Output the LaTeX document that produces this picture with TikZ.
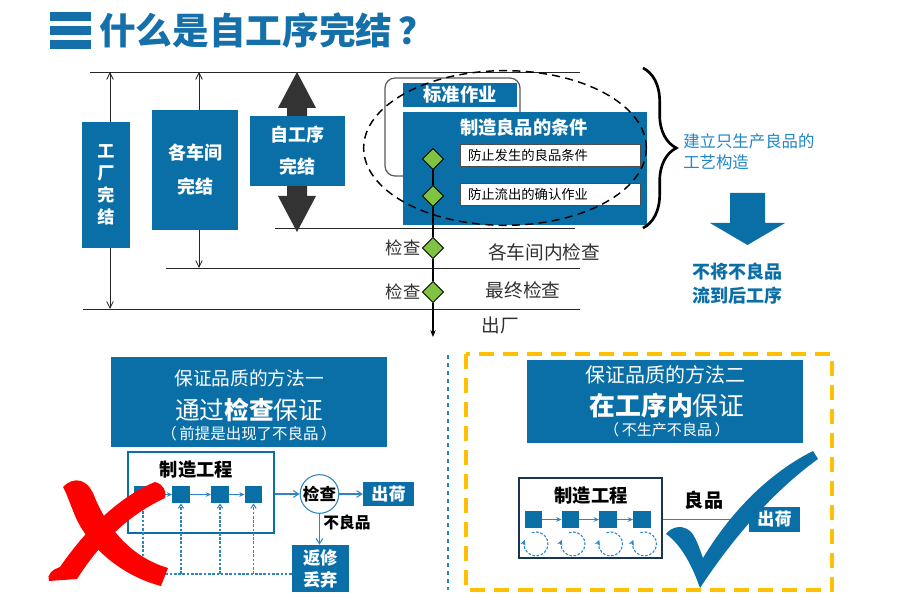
\documentclass[tikz,border=0pt]{standalone}
\usepackage{fontspec}
\setmainfont{Noto Sans CJK SC}
\usepackage{xcolor}
\definecolor{cMain}{HTML}{0B6FA7}
\definecolor{cTitle}{HTML}{1570AA}
\definecolor{cLight}{HTML}{1F86C8}
\definecolor{cLine}{HTML}{2E86C1}
\definecolor{cText}{HTML}{303030}
\definecolor{cDark}{HTML}{333333}
\definecolor{cGreen}{HTML}{80C342}
\definecolor{cYellow}{HTML}{FFC000}
\definecolor{cRed}{HTML}{FF0000}
\definecolor{cNavy}{HTML}{1A3550}
\usepackage{tikz}
\usetikzlibrary{positioning,arrows.meta,shapes.geometric,decorations.pathreplacing,calc,backgrounds}
\newcommand{\fsz}[2]{\fontsize{#1}{#2}\selectfont}
\tikzset{
  blue-box/.style={fill=cMain,text=white,inner sep=0pt,align=center},
  white-box/.style={draw=black!70,fill=white,inner sep=0pt,line width=0.6pt},
  proc-box/.style={draw=cMain,fill=white,line width=1pt,inner sep=0pt},
  sq-box/.style={fill=cMain,minimum size=13pt,inner sep=0pt},
  chk-diamond/.style={diamond,draw=black,fill=cGreen,minimum size=16pt,
    inner sep=0pt,line width=0.6pt},
  txt/.style={text=cText,inner sep=0pt,align=center},
  rule-line/.style={draw=black!85,line width=0.7pt},
  dim-arrow/.style={{Straight Barb[length=5pt,width=5pt]}-{Straight Barb[length=5pt,width=5pt]},
    draw=black!85,line width=0.6pt},
  main-line/.style={-{Stealth[length=5pt,width=4pt]},draw=black,line width=1.1pt},
  flow-arrow/.style={-{Stealth[length=4pt,width=3.5pt]},draw=cLine,line width=0.8pt},
  out-arrow/.style={-{Straight Barb[length=4pt,width=5pt]},draw=cLine,line width=0.8pt},
  fb-line/.style={draw=cLine,line width=0.8pt,dash pattern=on 2pt off 1.2pt},
  fb-arrow/.style={fb-line,-{Straight Barb[length=3pt,width=4pt]}},
  loop-arrow/.style={draw=cLine,line width=0.8pt,dash pattern=on 2pt off 1.2pt,
    -{Stealth[length=4pt,width=4pt]}},
}

\begin{document}
\begin{tikzpicture}[x=0.75pt,y=-0.75pt]
  \useasboundingbox (0,0) rectangle (908,605);
  % title
  \foreach \yy in {12,26,40}
    \fill[cTitle] (50,\yy) rectangle (91,\yy+9);
  \node[anchor=west,text=cTitle,inner sep=0pt,font=\fsz{27.5}{30}\bfseries] (title) at (99,30) {什么是自工序完结\,？};

  % levels
  \coordinate (ln0a) at (90,72);  \coordinate (ln0b) at (580,72);
  \coordinate (ln1a) at (275,228); \coordinate (ln1b) at (575,228);
  \coordinate (ln2a) at (166,268); \coordinate (ln2b) at (580,268);
  \coordinate (ln3a) at (83,309);  \coordinate (ln3b) at (580,309);
  \draw[rule-line] (ln0a) -- (ln0b);
  \draw[rule-line] (ln1a) -- (ln1b);
  \draw[rule-line] (ln2a) -- (ln2b);
  \draw[rule-line] (ln3a) -- (ln3b);
  \coordinate (facT) at (110,72);  \coordinate (facB) at (110,309);
  \coordinate (wsT) at (199,72);   \coordinate (wsB) at (199,268);
  \draw[dim-arrow] (facT) -- (facB);
  \draw[dim-arrow] (wsT) -- (wsB);
  \fill[cDark] (297,72) -- (316,108) -- (307,108) -- (307,196) -- (316,196)
    -- (297,232) -- (278,196) -- (287,196) -- (287,108) -- (278,108) -- cycle;

  \node[blue-box,minimum width=36pt,minimum height=94.5pt,font=\fsz{12.8}{16.5}\bfseries]
    (fac) at (106,185) {工\\厂\\完\\结};
  \node[blue-box,minimum width=64.5pt,minimum height=90pt,font=\fsz{13.5}{25.5}\bfseries]
    (ws) at (195,170) {各车间\\完结};
  \node[blue-box,minimum width=71.25pt,minimum height=52.5pt,font=\fsz{13.5}{24}\bfseries]
    (self) at (297.5,151) {自工序\\完结};

  % conditions
  \draw[draw=black!65,line width=0.9pt,rounded corners=7.5pt] (385,78) rectangle (520,176);
  \node[blue-box,minimum width=85.5pt,minimum height=18pt,font=\fsz{13.7}{16}\bfseries]
    (std) at (460,95) {标准作业};
  \node[blue-box,minimum width=183pt,minimum height=84.75pt] (cond) at (525,168.5) {};
  \node[txt,text=white,font=\fsz{13.7}{16}\bfseries] at (524,128) {制造良品的条件};
  \node[white-box,minimum height=16.5pt,text width=123pt,inner xsep=6pt,align=left,
    font=\fsz{10}{12}] (c1) at (550,155) {防止发生的良品条件};
  \node[white-box,minimum height=16.5pt,text width=123pt,inner xsep=6pt,align=left,
    font=\fsz{10}{12}] (c2) at (550,194.5) {防止流出的确认作业};

  \node[chk-diamond] (d1) at (433,159) {};
  \node[chk-diamond] (d2) at (433,196) {};
  \node[chk-diamond] (d3) at (433,248) {};
  \node[chk-diamond] (d4) at (433,292) {};
  \coordinate (exit) at (433,337);
  \draw[main-line] (d1) -- (d2) -- (d3) -- (d4) -- (exit);
  \node[txt,font=\fsz{13}{15},left=1pt of d3] {检查};
  \node[txt,font=\fsz{13}{15},left=1pt of d4] {检查};
  \node[txt,font=\fsz{14}{16}] at (544,252) {各车间内检查};
  \node[txt,font=\fsz{14}{16}] at (523,290) {最终检查};
  \node[txt,font=\fsz{14}{16}] at (500,325) {出厂};

  \draw[black,line width=1.1pt,dash pattern=on 6pt off 4pt] (505,148) ellipse [x radius=106pt,y radius=58pt];

  \draw[decorate,decoration={brace,amplitude=25pt},line width=2pt] (643,68) -- (643,228);
  \node[anchor=west,txt,text=cLight,align=left,font=\fsz{12.3}{15.75}] (aim) at (683,152)
    {建立只生产良品的\\工艺构造};
  \fill[cMain] (730,193) -- (765,193) -- (765,223) -- (785,223) -- (747.5,245)
    -- (710,223) -- (730,223) -- cycle;
  \node[txt,text=cMain,font=\fsz{13.5}{18}\bfseries] (res) at (737,284) {不将不良品\\流到后工序};

  % method 1
  \node[blue-box,minimum width=207pt,minimum height=67.5pt] (m1) at (249,402) {};
  \node[txt,text=white,font=\fsz{14}{17}] at (249,378) {保证品质的方法一};
  \node[txt,text=white,font=\fsz{18.5}{22}] at (249,410) {通过{\bfseries 检查}保证};
  \node[txt,text=white,font=\fsz{11.6}{14}] at (249,434) {（\,前提是出现了不良品\,）};

  \node[proc-box,minimum width=109.5pt,minimum height=60.75pt] (proc1) at (201,492.5) {};
  \node[txt,text=black,font=\fsz{13.7}{16}\bfseries] at (196.5,470) {制造工程};
  \node[sq-box] (s1) at (143,494.5) {};
  \node[sq-box] (s2) at (181,494.5) {};
  \node[sq-box] (s3) at (220,494.5) {};
  \node[sq-box] (s4) at (253.5,494.5) {};
  \draw[flow-arrow] (s1) -- (s2);
  \draw[flow-arrow] (s2) -- (s3);
  \draw[flow-arrow] (s3) -- (s4);
  \node[circle,draw=cLine,fill=white,minimum size=29pt,inner sep=0pt,line width=0.8pt,
    text=black,font=\fsz{12.4}{14}\bfseries] (insp) at (319.5,494) {检查};
  \node[blue-box,minimum width=38pt,minimum height=18pt,font=\fsz{12.8}{15}\bfseries]
    (ship1) at (388.5,494) {出荷};
  \node[blue-box,minimum width=42.75pt,minimum height=35.25pt,font=\fsz{13}{16.5}\bfseries]
    (rw) at (320.5,568.5) {返修\\丢弃};
  \draw[out-arrow] (proc1.east |- insp) -- (insp);
  \draw[out-arrow] (insp) -- (ship1);
  \draw[out-arrow] (insp.south) -- (insp.south |- rw.north);
  \node[txt,text=black,font=\fsz{11.8}{14}\bfseries] at (347,523) {不良品};
  \coordinate (fb) at (143,574);
  \draw[fb-line] (rw.west |- fb) -- (fb) -- (s1.south);
  \foreach \s in {s2,s3,s4}
    \draw[fb-arrow] (\s |- fb) -- (\s.south);

  % red cross
  \fill[cRed] (63,487) .. controls (74,476) and (88,478) .. (95,498)
    .. controls (112,538) and (140,560) .. (168,568) -- (161,586)
    .. controls (126,577) and (92,552) .. (76,518)
    .. controls (70,504) and (67,494) .. (63,487) -- cycle;
  \fill[cRed] (155,482) .. controls (163,484) and (167,491) .. (165,498)
    .. controls (126,516) and (98,546) .. (77,579) -- (49,581)
    .. controls (46,575) and (53,569) .. (60,567)
    .. controls (84,532) and (118,497) .. (155,482) -- cycle;

  \draw[cLight,line width=1.2pt,dash pattern=on 3pt off 3pt] (448,355) -- (448,590);

  % method 2
  \draw[cYellow,line width=3pt,dash pattern=on 11pt off 7pt] (466,354) rectangle (832,590);
  \node[blue-box,minimum width=207pt,minimum height=62.25pt] (m2) at (665,401.5) {};
  \node[txt,text=white,font=\fsz{15}{17}] at (665,375) {保证品质的方法二};
  \node[txt,text=white,font=\fsz{19.4}{22}] at (667,406) {{\bfseries 在工序内}保证};
  \node[txt,text=white,font=\fsz{11.3}{14}] at (667,430) {（\,不生产不良品\,）};

  \node[proc-box,draw=cNavy,line width=0.8pt,minimum width=107.25pt,minimum height=60pt]
    (proc2) at (590.5,518) {};
  \node[txt,text=black,font=\fsz{13.7}{16}\bfseries] at (591,496) {制造工程};
  \node[sq-box] (t1) at (533.5,519.5) {};
  \node[sq-box] (t2) at (570.5,519.5) {};
  \node[sq-box] (t3) at (608,519.5) {};
  \node[sq-box] (t4) at (642,519.5) {};
  \draw[flow-arrow] (t1) -- (t2);
  \draw[flow-arrow] (t2) -- (t3);
  \draw[flow-arrow] (t3) -- (t4);
  \foreach \s in {t1,t2,t3,t4}
    \draw[loop-arrow] ([shift={(2.5,24.5)}]\s.center) ++(110:9pt)
      arc[start angle=110,end angle=-200,radius=9pt];
  \node[blue-box,minimum width=38.25pt,minimum height=18.75pt,font=\fsz{12.8}{15}\bfseries]
    (ship2) at (774.5,519.5) {出荷};
  \node[txt,text=black,font=\fsz{14.3}{16}\bfseries] at (704,500) {良品};
  \begin{scope}[on background layer]
    \draw[draw=cLine,line width=1pt] (proc2.east |- t4) -- (ship2.west |- t4);
    % check mark
    \fill[cMain] (666,534) .. controls (672,526) and (684,524) .. (692,533)
      .. controls (697,540) and (700,550) .. (703,558)
      .. controls (735,505) and (775,470) .. (813,451) -- (818,459)
      .. controls (775,490) and (735,535) .. (700,588)
      .. controls (693,568) and (682,545) .. (666,534) -- cycle;
  \end{scope}
\end{tikzpicture}
\end{document}
